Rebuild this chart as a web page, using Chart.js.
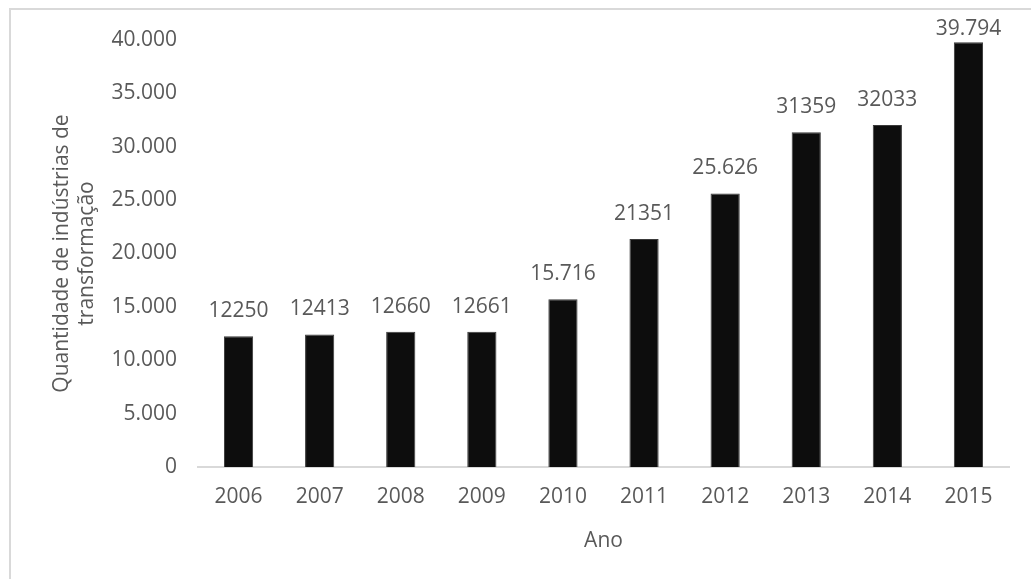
<!DOCTYPE html>
<html>
<head>
<meta charset="utf-8">
<script src="https://cdn.jsdelivr.net/npm/chart.js@4/dist/chart.umd.min.js"></script>
<style>
  html, body { margin: 0; padding: 0; background: #fff; overflow: hidden; }
  #wrap { width: 1031px; height: 579px; position: relative; }
</style>
</head>
<body>
<div id="wrap"><canvas id="grafico" width="1031" height="579"></canvas></div>
<script>
// Dados do gráfico
const anos = ['2006', '2007', '2008', '2009', '2010', '2011', '2012', '2013', '2014', '2015'];
const industrias = [12250, 12413, 12660, 12661, 15716, 21351, 25626, 31359, 32033, 39794];
// rótulos como aparecem no original (formatos misturados)
const rotulos = ['12250', '12413', '12660', '12661', '15.716', '21351', '25.626', '31359', '32033', '39.794'];

const corTexto = '#595959';
const fonte = { family: "'Open Sans', sans-serif", size: 21 };

// moldura cinza em volta do gráfico
const moldura = {
  id: 'moldura',
  beforeDraw(chart) {
    const ctx = chart.ctx;
    ctx.save();
    ctx.fillStyle = '#fff';
    ctx.fillRect(0, 0, chart.width, chart.height);
    ctx.strokeStyle = '#d9d9d9';
    ctx.lineWidth = 2;
    ctx.strokeRect(10, 9, 1200, 800);
    ctx.restore();
  }
};

// rótulos de dados acima das barras
const rotulosDados = {
  id: 'rotulosDados',
  afterDatasetsDraw(chart) {
    const ctx = chart.ctx;
    const meta = chart.getDatasetMeta(0);
    ctx.save();
    ctx.font = fonte.size + 'px ' + fonte.family;
    ctx.fillStyle = corTexto;
    ctx.textAlign = 'center';
    ctx.textBaseline = 'middle';
    meta.data.forEach((barra, i) => {
      const y = Math.max(barra.y - 25, 29);
      ctx.fillText(rotulos[i], barra.x, y);
    });
    ctx.restore();
  }
};

const ctx = document.getElementById('grafico').getContext('2d');
const grafico = new Chart(ctx, {
  type: 'bar',
  data: {
    labels: anos,
    datasets: [{
      data: industrias,
      backgroundColor: '#0d0d0d',
      borderColor: '#3a3a3a',
      borderWidth: 1,
      barPercentage: 0.36,
      categoryPercentage: 1
    }]
  },
  options: {
    responsive: false,
    animation: false,
    devicePixelRatio: 1,
    layout: { padding: { top: 40, right: 22, left: 0, bottom: 0 } },
    plugins: {
      legend: { display: false },
      tooltip: { enabled: false }
    },
    scales: {
      x: {
        grid: { display: false, drawTicks: false },
        border: { display: true, color: '#d9d9d9', width: 2 },
        ticks: { color: corTexto, font: fonte, padding: 17, maxRotation: 0 },
        title: {
          display: true,
          text: 'Ano',
          color: corTexto,
          font: fonte,
          padding: { top: 0, bottom: 25 }
        },
        afterFit(scale) { scale.height = 112; }
      },
      y: {
        min: 0,
        max: 40000,
        grid: { display: false, drawTicks: false },
        border: { display: false },
        ticks: {
          stepSize: 5000,
          color: corTexto,
          font: fonte,
          padding: 21,
          callback: (v) => String(v).replace(/\B(?=(\d{3})+(?!\d))/g, '.')
        },
        title: {
          display: true,
          text: ['Quantidade de indústrias de', 'transformação'],
          color: corTexto,
          font: fonte,
          padding: { top: 49, bottom: 0 }
        },
        afterFit(scale) { scale.width = 198; }
      }
    }
  },
  plugins: [moldura, rotulosDados]
});
</script>
</body>
</html>
